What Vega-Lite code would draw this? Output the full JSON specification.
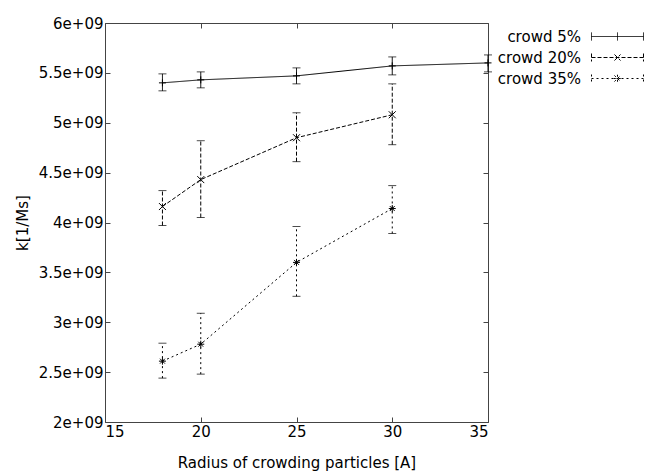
{
  "$schema": "https://vega.github.io/schema/vega-lite/v6.json",
  "width": 383,
  "height": 399,
  "autosize": {"type": "none"},
  "padding": {"left": 105, "top": 23, "right": 159, "bottom": 51},
  "background": "white",
  "config": {
    "font": "DejaVu Sans",
    "view": {"stroke": "#444", "strokeWidth": 1},
    "axis": {"domain": false, "grid": false, "labelFont": "DejaVu Sans", "titleFont": "DejaVu Sans", "labelFontSize": 15, "titleFontSize": 15, "labelColor": "black", "titleColor": "black", "titleFontWeight": "normal", "tickColor": "#444", "tickSize": -5, "labelPadding": 7},
    "legend": {"labelFont": "DejaVu Sans", "labelFontSize": 15, "labelColor": "black"}
  },
  "data": {
    "values": [
      {"radius": 18, "series": "crowd 5%", "k": 5400000000, "lo": 5320000000, "hi": 5490000000},
      {"radius": 20, "series": "crowd 5%", "k": 5430000000, "lo": 5350000000, "hi": 5510000000},
      {"radius": 25, "series": "crowd 5%", "k": 5470000000, "lo": 5390000000, "hi": 5550000000},
      {"radius": 30, "series": "crowd 5%", "k": 5570000000, "lo": 5480000000, "hi": 5660000000},
      {"radius": 35, "series": "crowd 5%", "k": 5600000000, "lo": 5510000000, "hi": 5680000000},
      {"radius": 18, "series": "crowd 20%", "k": 4160000000, "lo": 3970000000, "hi": 4320000000},
      {"radius": 20, "series": "crowd 20%", "k": 4430000000, "lo": 4050000000, "hi": 4820000000},
      {"radius": 25, "series": "crowd 20%", "k": 4850000000, "lo": 4610000000, "hi": 5100000000},
      {"radius": 30, "series": "crowd 20%", "k": 5080000000, "lo": 4780000000, "hi": 5390000000},
      {"radius": 18, "series": "crowd 35%", "k": 2610000000, "lo": 2440000000, "hi": 2790000000},
      {"radius": 20, "series": "crowd 35%", "k": 2780000000, "lo": 2480000000, "hi": 3090000000},
      {"radius": 25, "series": "crowd 35%", "k": 3600000000, "lo": 3260000000, "hi": 3960000000},
      {"radius": 30, "series": "crowd 35%", "k": 4140000000, "lo": 3890000000, "hi": 4370000000}
    ]
  },
  "resolve": {"axis": {"x": "independent", "y": "independent"}},
  "layer": [
    {
      "mark": {"type": "line", "color": "black", "strokeWidth": 1},
      "encoding": {
        "x": {"field": "radius", "type": "quantitative", "scale": {"domain": [15, 35], "nice": false}, "axis": {"orient": "bottom", "values": [15, 20, 25, 30, 35], "title": "Radius of crowding particles [A]", "titlePadding": 16}},
        "y": {"field": "k", "type": "quantitative", "scale": {"domain": [2000000000, 6000000000], "nice": false, "zero": false}, "axis": {"orient": "left", "values": [2000000000, 2500000000, 3000000000, 3500000000, 4000000000, 4500000000, 5000000000, 5500000000, 6000000000], "labelExpr": "(datum.value / 1e9) + 'e+09'", "title": "k[1/Ms]", "titlePadding": 8}},
        "strokeDash": {
          "field": "series", "type": "nominal",
          "scale": {"domain": ["crowd 5%", "crowd 20%", "crowd 35%"], "range": [[1, 0], [4, 2], [2, 3]]},
          "legend": {
            "title": null, "orient": "none", "legendX": 501.5, "legendY": 2.5, "padding": 0,
            "symbolSize": 441, "symbolStrokeColor": "black", "symbolStrokeWidth": 1, "symbolFillColor": "transparent",
            "labelAlign": "right", "labelOffset": -47.5, "rowPadding": 2, "symbolOffset": 0,
            "encode": {"symbols": {"update": {"shape": {"signal": "datum.value == 'crowd 5%' ? 'M-2.476,0L2.476,0M-2.476,-0.38L-2.476,0.38M2.476,-0.38L2.476,0.38M0,-0.38L0,0.38' : datum.value == 'crowd 20%' ? 'M-2.476,0L2.476,0M-2.476,-0.38L-2.476,0.38M2.476,-0.38L2.476,0.38M-0.29,-0.29L0.29,0.29M-0.29,0.29L0.29,-0.29' : 'M-2.476,0L2.476,0M-2.476,-0.38L-2.476,0.38M2.476,-0.38L2.476,0.38M-0.29,-0.29L0.29,0.29M-0.29,0.29L0.29,-0.29M0,-0.36L0,0.36M-0.36,0L0.36,0'"}}}}
          }
        }
      }
    },
    {
      "mark": {"type": "rule", "color": "black", "strokeWidth": 1},
      "encoding": {
        "x": {"field": "radius", "type": "quantitative", "axis": null},
        "y": {"field": "lo", "type": "quantitative", "axis": null},
        "y2": {"field": "hi"},
        "strokeDash": {"field": "series", "type": "nominal", "legend": null}
      }
    },
    {
      "mark": {"type": "tick", "orient": "horizontal", "color": "black", "size": 8, "thickness": 1},
      "encoding": {
        "x": {"field": "radius", "type": "quantitative", "axis": null},
        "y": {"field": "lo", "type": "quantitative", "axis": null},
        "strokeDash": {"field": "series", "type": "nominal", "legend": null}
      }
    },
    {
      "mark": {"type": "tick", "orient": "horizontal", "color": "black", "size": 8, "thickness": 1},
      "encoding": {
        "x": {"field": "radius", "type": "quantitative", "axis": null},
        "y": {"field": "hi", "type": "quantitative", "axis": null},
        "strokeDash": {"field": "series", "type": "nominal", "legend": null}
      }
    },
    {
      "transform": [{"filter": "datum.series == 'crowd 5%'"}],
      "mark": {"type": "point", "filled": false, "color": "black", "strokeWidth": 1, "size": 49, "opacity": 1, "shape": "M-1,0L1,0M0,-1L0,1"},
      "encoding": {
        "x": {"field": "radius", "type": "quantitative", "axis": {"orient": "top", "values": [15, 20, 25, 30, 35], "labels": false, "title": null}},
        "y": {"field": "k", "type": "quantitative", "axis": {"orient": "right", "values": [2000000000, 2500000000, 3000000000, 3500000000, 4000000000, 4500000000, 5000000000, 5500000000, 6000000000], "labels": false, "title": null}}
      }
    },
    {
      "transform": [{"filter": "datum.series == 'crowd 20%'"}],
      "mark": {"type": "point", "filled": false, "color": "black", "strokeWidth": 1, "size": 49, "opacity": 1, "shape": "M-1,-1L1,1M-1,1L1,-1"},
      "encoding": {
        "x": {"field": "radius", "type": "quantitative", "axis": null},
        "y": {"field": "k", "type": "quantitative", "axis": null}
      }
    },
    {
      "transform": [{"filter": "datum.series == 'crowd 35%'"}],
      "mark": {"type": "point", "filled": false, "color": "black", "strokeWidth": 1, "size": 49, "opacity": 1, "shape": "M-1,0L1,0M0,-1L0,1M-0.7,-0.7L0.7,0.7M-0.7,0.7L0.7,-0.7"},
      "encoding": {
        "x": {"field": "radius", "type": "quantitative", "axis": null},
        "y": {"field": "k", "type": "quantitative", "axis": null}
      }
    }
  ]
}
